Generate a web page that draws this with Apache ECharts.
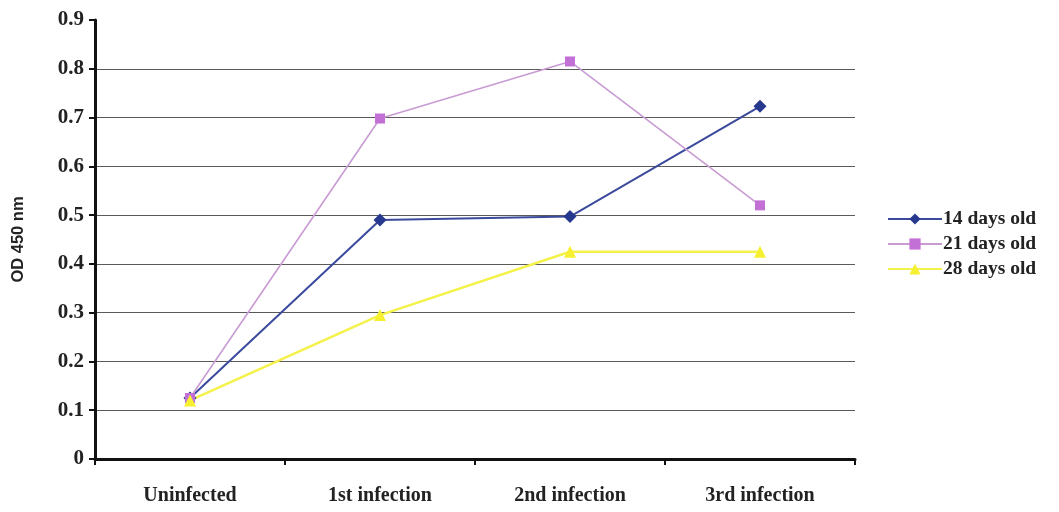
<!DOCTYPE html>
<html>
<head>
<meta charset="utf-8">
<script src="https://cdn.jsdelivr.net/npm/echarts@6/dist/echarts.min.js"></script>
<style>html,body{margin:0;padding:0;background:#fff;}#c{width:1059px;height:512px;}</style>
</head>
<body>
<div id="c"></div>
<script>
var categories = ['Uninfected', '1st infection', '2nd infection', '3rd infection'];
var seriesNames = ['14 days old', '21 days old', '28 days old'];
var days14 = [0.125, 0.49, 0.497, 0.723];
var days21 = [0.125, 0.698, 0.815, 0.52];
var days28 = [0.12, 0.295, 0.425, 0.425];
var yTicks = ['0', '0.1', '0.2', '0.3', '0.4', '0.5', '0.6', '0.7', '0.8', '0.9'];

var serif = '"Liberation Serif", "Times New Roman", serif';
var chart = echarts.init(document.getElementById('c'));
var gridColors = [];
for (var i = 0; i < yTicks.length; i++) gridColors.push(i === yTicks.length - 1 ? 'rgba(0,0,0,0)' : '#5a5a5a');

chart.setOption({
  animation: false,
  backgroundColor: '#ffffff',
  grid: { left: 95, right: 204, top: 20, bottom: 53 },
  legend: {
    orient: 'vertical',
    left: 882,
    top: 204,
    itemWidth: 54,
    itemHeight: 14,
    itemGap: 5,
    textStyle: { fontFamily: serif, fontWeight: 'bold', fontSize: 19.5, color: '#222', lineHeight: 20, padding: [0, 0, 0, -4] },
    data: seriesNames
  },
  xAxis: {
    type: 'category',
    data: categories,
    boundaryGap: true,
    axisLine: { lineStyle: { color: '#111', width: 3 } },
    axisTick: { show: true, length: 6, lineStyle: { color: '#111', width: 2 } },
    axisLabel: { fontFamily: serif, fontWeight: 'bold', fontSize: 20, color: '#222', margin: 27 },
    splitLine: { show: false }
  },
  yAxis: {
    type: 'value',
    min: 0, max: 0.9, interval: 0.1,
    name: 'OD 450 nm',
    nameLocation: 'middle',
    nameGap: 68,
    nameRotate: 90,
    nameTextStyle: { fontFamily: '"Liberation Sans", Arial, sans-serif', fontWeight: 'bold', fontSize: 16.5, color: '#222' },
    axisLine: { show: true, lineStyle: { color: '#111', width: 3 } },
    axisTick: { show: true, length: 6, lineStyle: { color: '#111', width: 2 } },
    axisLabel: {
      fontFamily: serif, fontWeight: 'bold', fontSize: 21, color: '#222', margin: 11,
      formatter: function (v) { return yTicks[Math.round(v * 10)]; }
    },
    splitLine: { show: true, lineStyle: { color: gridColors, width: 1.2 } }
  },
  series: [
    {
      name: seriesNames[0], type: 'line', data: days14,
      symbol: 'diamond', symbolSize: 13,
      lineStyle: { color: '#3b4a9c', width: 2 },
      itemStyle: { color: '#26398f' }
    },
    {
      name: seriesNames[1], type: 'line', data: days21,
      symbol: 'rect', symbolSize: 10,
      lineStyle: { color: '#c99bd3', width: 1.6 },
      itemStyle: { color: '#c270d6' }
    },
    {
      name: seriesNames[2], type: 'line', data: days28,
      symbol: 'triangle', symbolSize: 12,
      lineStyle: { color: '#f4f24a', width: 2.5 },
      itemStyle: { color: '#f6f030' }
    }
  ]
});
</script>
</body>
</html>
